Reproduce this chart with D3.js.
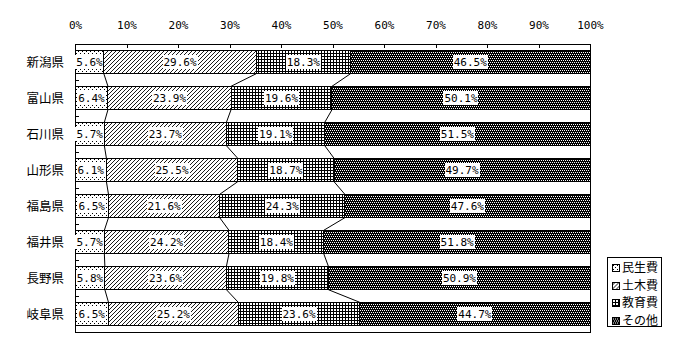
<!DOCTYPE html>
<html>
<head>
<meta charset="utf-8">
<script src="https://cdn.jsdelivr.net/npm/d3@7"></script>
<style>
  body { margin: 0; background: #fff; }
  text { fill: #000; }
</style>
</head>
<body>
<div id="chart"></div>
<script>
// Data
var prefectures = ["新潟県", "富山県", "石川県", "山形県", "福島県", "福井県", "長野県", "岐阜県"];
var seriesNames = ["民生費", "土木費", "教育費", "その他"];
var minsei = [5.6, 6.4, 5.7, 6.1, 6.5, 5.7, 5.8, 6.5];
var doboku = [29.6, 23.9, 23.7, 25.5, 21.6, 24.2, 23.6, 25.2];
var kyoiku = [18.3, 19.6, 19.1, 18.7, 24.3, 18.4, 19.8, 23.6];
var sonota = [46.5, 50.1, 51.5, 49.7, 47.6, 51.8, 50.9, 44.7];
var xTicks = [0, 10, 20, 30, 40, 50, 60, 70, 80, 90, 100];

var svgWidth = 700;
var svgHeight = 360;

var margin = { top: 44, right: 110, bottom: 28, left: 75 };
var chartWidth = 590 - margin.left;
var chartHeight = 332 - margin.top;

var svg = d3.select("#chart")
    .append("svg")
    .attr("width", svgWidth)
    .attr("height", svgHeight)
    .attr("shape-rendering", "crispEdges");

// patterns
var defs = svg.append("defs");

var pDots = defs.append("pattern").attr("id", "p0")
    .attr("patternUnits", "userSpaceOnUse").attr("width", 4).attr("height", 4);
pDots.append("rect").attr("width", 4).attr("height", 4).attr("fill", "#fff");
pDots.append("rect").attr("x", 1).attr("y", 1).attr("width", 1).attr("height", 1).attr("fill", "#000");
pDots.append("rect").attr("x", 3).attr("y", 3).attr("width", 1).attr("height", 1).attr("fill", "#000");

var pDiag = defs.append("pattern").attr("id", "p1")
    .attr("patternUnits", "userSpaceOnUse").attr("width", 4).attr("height", 4);
pDiag.append("rect").attr("width", 4).attr("height", 4).attr("fill", "#fff");
pDiag.append("path").attr("d", "M-1,1 l2,-2 M0,4 l4,-4 M3,5 l2,-2")
    .attr("stroke", "#000").attr("stroke-width", 0.9).attr("shape-rendering", "auto");

var pGrid = defs.append("pattern").attr("id", "p2")
    .attr("patternUnits", "userSpaceOnUse").attr("width", 3).attr("height", 3);
pGrid.append("rect").attr("width", 3).attr("height", 3).attr("fill", "#fff");
pGrid.append("rect").attr("width", 3).attr("height", 1).attr("fill", "#000");
pGrid.append("rect").attr("width", 1).attr("height", 3).attr("fill", "#000");

var pDark = defs.append("pattern").attr("id", "p3")
    .attr("patternUnits", "userSpaceOnUse").attr("width", 4).attr("height", 4);
pDark.append("rect").attr("width", 4).attr("height", 4).attr("fill", "#000");
[[0, 0], [2, 0], [1, 2], [3, 2]].forEach(function (d) {
    pDark.append("rect").attr("x", d[0]).attr("y", d[1]).attr("width", 1).attr("height", 1).attr("fill", "#fff");
});

var chartGroup = svg.append("g")
    .attr("transform", `translate(${margin.left}, ${margin.top})`);

// scales
var xScale = d3.scaleLinear().domain([0, 100]).range([0, chartWidth]);
var yScale = d3.scaleBand().domain(prefectures).range([0, chartHeight]).paddingInner(0.35).paddingOuter(0.175);

// stacked data
var table = prefectures.map(function (p, i) {
    return { pref: p, s0: minsei[i], s1: doboku[i], s2: kyoiku[i], s3: sonota[i] };
});
var stack = d3.stack().keys(["s0", "s1", "s2", "s3"]);
var stacked = stack(table);

// frame
chartGroup.append("rect")
    .attr("width", chartWidth).attr("height", chartHeight)
    .attr("fill", "none").attr("stroke", "#000");

// top axis
var topAxis = d3.axisTop(xScale).tickValues(xTicks).tickSize(-4).tickSizeOuter(0)
    .tickFormat(function (d) { return d + "%"; });
var axisG = chartGroup.append("g").call(topAxis);
axisG.select(".domain").remove();
axisG.selectAll("text")
    .attr("y", -15)
    .style("font-family", "'DejaVu Sans Mono', monospace")
    .style("font-size", "11px");
axisG.selectAll(".tick").filter(function (d) { return d === 0 || d === 100; }).select("line").remove();

// left ticks between categories
var bandStep = yScale.step();
chartGroup.selectAll(".ytick")
    .data(prefectures.slice(1))
    .enter()
    .append("line")
    .attr("x1", 0).attr("x2", 4)
    .attr("y1", function (d) { return Math.round(yScale(d) - yScale.paddingInner() * bandStep / 2) + 0.5; })
    .attr("y2", function (d) { return Math.round(yScale(d) - yScale.paddingInner() * bandStep / 2) + 0.5; })
    .attr("stroke", "#000");

// category labels
chartGroup.selectAll(".cat")
    .data(prefectures)
    .enter()
    .append("text")
    .attr("x", -11)
    .attr("y", function (d) { return yScale(d) + yScale.bandwidth() / 2; })
    .attr("dy", "0.36em")
    .attr("text-anchor", "end")
    .style("font-family", "'Noto Sans CJK JP', sans-serif")
    .style("font-size", "12.5px")
    .text(function (d) { return d; });

// series lines
[0, 1, 2].forEach(function (k) {
    for (var i = 0; i < prefectures.length - 1; i++) {
        var a = stacked[k][i][1];
        var b = stacked[k][i + 1][1];
        chartGroup.append("line")
            .attr("x1", xScale(a)).attr("y1", yScale(prefectures[i]) + yScale.bandwidth())
            .attr("x2", xScale(b)).attr("y2", yScale(prefectures[i + 1]))
            .attr("stroke", "#000").attr("stroke-width", 1)
            .attr("shape-rendering", "auto");
    }
});

// bars
var layers = chartGroup.selectAll(".layer")
    .data(stacked)
    .enter()
    .append("g")
    .attr("fill", function (d, i) { return "url(#p" + i + ")"; });

layers.selectAll("rect")
    .data(function (d) { return d; })
    .enter()
    .append("rect")
    .attr("x", function (d) { return xScale(d[0]); })
    .attr("y", function (d) { return yScale(d.data.pref); })
    .attr("width", function (d) { return xScale(d[1]) - xScale(d[0]); })
    .attr("height", yScale.bandwidth())
    .attr("stroke", "#000");

// value labels with white boxes
var labelG = chartGroup.append("g");
stacked.forEach(function (layer) {
    layer.forEach(function (d) {
        var txt = (d[1] - d[0]).toFixed(1) + "%";
        var cx = (xScale(d[0]) + xScale(d[1])) / 2;
        var cy = yScale(d.data.pref) + yScale.bandwidth() / 2;
        var w = txt.length * 6.6 + 2;
        labelG.append("rect")
            .attr("x", Math.round(cx - w / 2)).attr("y", Math.round(cy - 7))
            .attr("width", Math.round(w)).attr("height", 14)
            .attr("fill", "#fff");
        labelG.append("text")
            .attr("x", cx).attr("y", cy)
            .attr("dy", "0.36em")
            .attr("text-anchor", "middle")
            .style("font-family", "'DejaVu Sans Mono', monospace")
            .style("font-size", "11px")
            .text(txt);
    });
});

// legend
var legend = svg.append("g").attr("transform", "translate(607, 257)");
legend.append("rect").attr("x", 0.5).attr("y", 0.5).attr("width", 54).attr("height", 69)
    .attr("fill", "#fff").attr("stroke", "#000");
seriesNames.forEach(function (name, i) {
    var row = legend.append("g").attr("transform", `translate(5, ${7 + i * 17.5})`);
    row.append("rect").attr("x", 0.5).attr("y", 0.5).attr("width", 7).attr("height", 7)
        .attr("fill", "url(#p" + i + ")").attr("stroke", "#000");
    row.append("text")
        .attr("x", 10).attr("y", 4)
        .attr("dy", "0.36em")
        .style("font-family", "'Noto Sans CJK JP', sans-serif")
        .style("font-size", "12px")
        .text(name);
});
</script>
</body>
</html>
